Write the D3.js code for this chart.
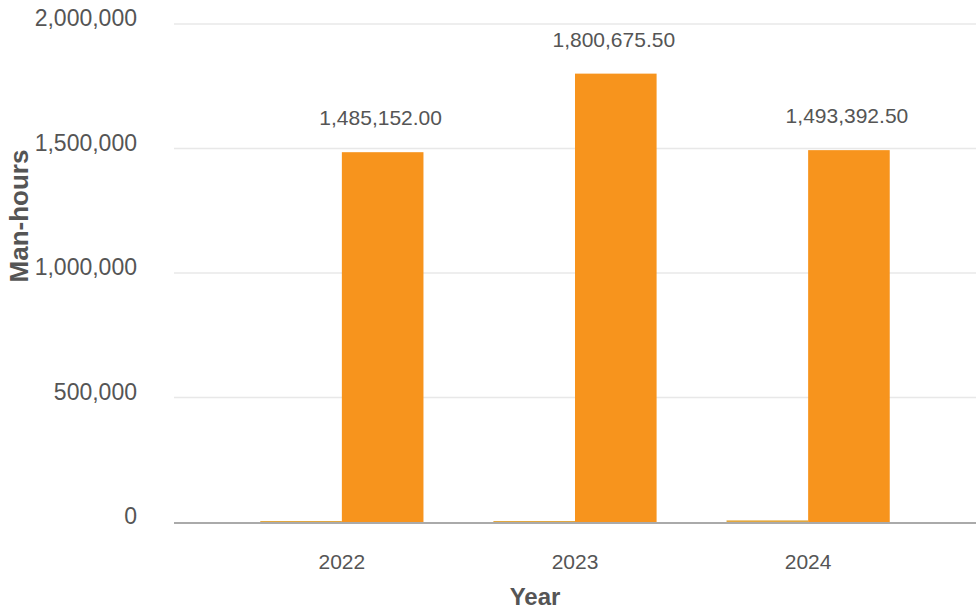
<!DOCTYPE html>
<html lang="en">
<head>
    <meta charset="UTF-8">
    <title>Man-hours by Year</title>
    <script src="https://d3js.org/d3.v7.min.js"></script>
    <style>
        body {
            margin: 0;
            background: #fff;
            font-family: "Liberation Sans", Arial, Helvetica, sans-serif;
        }
        .grid line { stroke: #e8e8e8; stroke-width: 1.5px; }
        .tick-label { fill: #555; font-size: 21px; }
        .y-label { font-size: 23px; }
        .axis-title { fill: #555; font-size: 26px; font-weight: bold; }
        .x-title { font-size: 24px; }
        .value-label { fill: #555; font-size: 21px; }
    </style>
</head>
<body>
    <svg id="chart" width="976" height="612"></svg>

    <script>
        // data
        const years = ["2022", "2023", "2024"];
        const seriesNames = ["other", "man-hours"];
        const otherValues = [1200, 1500, 6500];       // tiny series, barely visible
        const manHours = [1485152.00, 1800675.50, 1493392.50];
        const yTicks = [0, 500000, 1000000, 1500000, 2000000];
        const colors = ["#e3a83e", "#f7941d"];

        const svg = d3.select("#chart");
        const plotLeft = 174, plotRight = 976, plotTop = 24, plotBottom = 522;

        const x = d3.scaleBand()
            .domain(years)
            .range([plotLeft, plotRight])
            .paddingInner(0.3)
            .paddingOuter(0.37);

        const xSub = d3.scaleBand()
            .domain(seriesNames)
            .range([0, x.bandwidth()]);

        const y = d3.scaleLinear()
            .domain([0, 2000000])
            .range([plotBottom, plotTop]);

        // grid lines
        svg.append("g")
            .attr("class", "grid")
            .selectAll("line")
            .data(yTicks.slice(1))
            .enter().append("line")
            .attr("x1", plotLeft)
            .attr("x2", plotRight)
            .attr("y1", d => y(d))
            .attr("y2", d => y(d));

        // y tick labels
        svg.append("g")
            .selectAll("text")
            .data(yTicks)
            .enter().append("text")
            .attr("class", "tick-label y-label")
            .attr("x", 137)
            .attr("y", d => y(d) + 2)
            .attr("text-anchor", "end")
            .text(d => d3.format(",")(d));

        // bars
        const rows = years.map((yr, i) => ({ year: yr, values: [otherValues[i], manHours[i]] }));

        const group = svg.append("g")
            .selectAll("g")
            .data(rows)
            .enter().append("g")
            .attr("transform", d => `translate(${x(d.year)},0)`);

        group.selectAll("rect")
            .data(d => d.values.map((v, k) => ({ key: seriesNames[k], value: v, k })))
            .enter().append("rect")
            .attr("x", d => xSub(d.key))
            .attr("width", xSub.bandwidth())
            .attr("y", d => Math.min(y(d.value), plotBottom - 1))
            .attr("height", d => Math.max(plotBottom - y(d.value), 1))
            .attr("fill", d => colors[d.k]);

        // value labels on main series
        group.append("text")
            .attr("class", "value-label")
            .attr("x", xSub("man-hours") + xSub.bandwidth() / 2 - 2)
            .attr("y", d => y(d.values[1]) - 27)
            .attr("text-anchor", "middle")
            .text(d => d3.format(",.2f")(d.values[1]));

        // x axis line
        svg.append("line")
            .attr("x1", plotLeft)
            .attr("x2", plotRight)
            .attr("y1", plotBottom + 1)
            .attr("y2", plotBottom + 1)
            .attr("stroke", "#aaa")
            .attr("stroke-width", 2);

        // x tick labels
        svg.append("g")
            .selectAll("text")
            .data(years)
            .enter().append("text")
            .attr("class", "tick-label")
            .attr("x", d => x(d) + x.bandwidth() / 2)
            .attr("y", 569)
            .attr("text-anchor", "middle")
            .text(d => d);

        // axis titles
        svg.append("text")
            .attr("class", "axis-title x-title")
            .attr("x", 535)
            .attr("y", 605)
            .attr("text-anchor", "middle")
            .text("Year");

        svg.append("text")
            .attr("class", "axis-title")
            .attr("transform", "translate(28,216) rotate(-90)")
            .attr("text-anchor", "middle")
            .text("Man-hours");
    </script>
</body>
</html>
